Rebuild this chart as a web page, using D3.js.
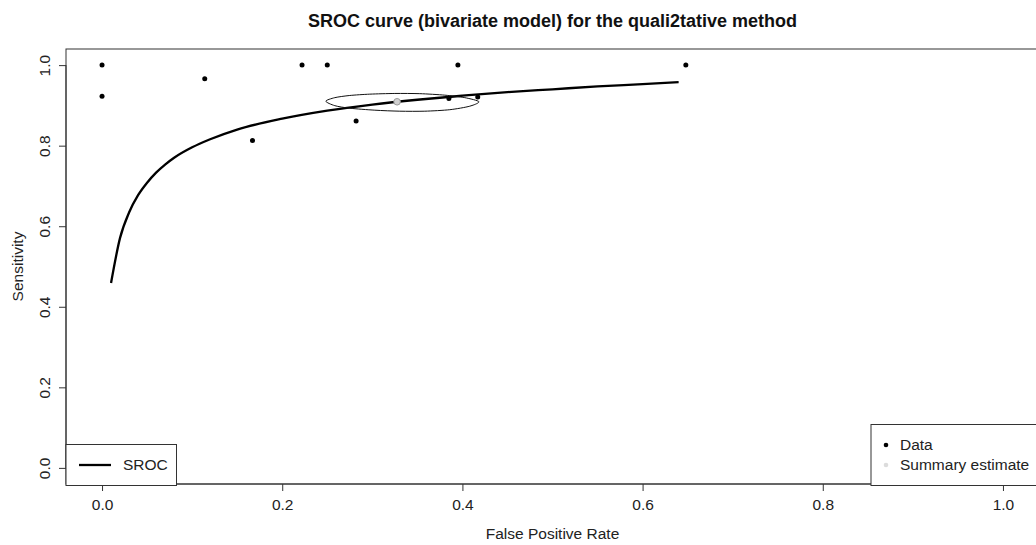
<!DOCTYPE html>
<html>
<head>
<meta charset="utf-8">
<script src="https://cdn.jsdelivr.net/npm/d3@7"></script>
<style>
  html, body { margin: 0; padding: 0; background: #fff; }
  svg { display: block; font-family: "Liberation Sans", Arial, sans-serif; }
</style>
</head>
<body>
<svg id="chart" width="1036" height="545"></svg>
<script>
// Study-level observations (false positive rate, sensitivity)
const dataFpr  = [0.000, 0.000, 0.114, 0.167, 0.222, 0.250, 0.282, 0.385, 0.395, 0.417, 0.648];
const dataSens = [1.000, 0.923, 0.966, 0.813, 1.000, 1.000, 0.861, 0.917, 1.000, 0.921, 1.000];

// Summary estimate of the bivariate model
const summaryFpr = 0.3275;
const summarySens = 0.909;

// SROC curve
const srocFpr  = [0.01, 0.02, 0.03, 0.04, 0.05, 0.06, 0.07, 0.08, 0.10, 0.12, 0.15, 0.20, 0.25, 0.30, 0.35, 0.40, 0.45, 0.50, 0.55, 0.60, 0.64];
const srocSens = [0.459, 0.571, 0.634, 0.677, 0.708, 0.733, 0.753, 0.770, 0.796, 0.816, 0.840, 0.867, 0.887, 0.902, 0.914, 0.924, 0.933, 0.940, 0.947, 0.953, 0.958];

// Confidence region around the summary estimate
const regionFpr  = [0.2484, 0.2584, 0.2750, 0.2972, 0.3250, 0.3527, 0.3805, 0.4027, 0.4183, 0.4082, 0.3860, 0.3583, 0.3305, 0.3028, 0.2750, 0.2584];
const regionSens = [0.9104, 0.9192, 0.9246, 0.9279, 0.9296, 0.9291, 0.9254, 0.9192, 0.9092, 0.8980, 0.8893, 0.8856, 0.8856, 0.8881, 0.8930, 0.8993];

const xTicks = [0, 0.2, 0.4, 0.6, 0.8, 1.0];
const yTicks = [0, 0.2, 0.4, 0.6, 0.8, 1.0];

const titleText = "SROC curve (bivariate model) for the quali2tative method";
const xLabel = "False Positive Rate";
const yLabel = "Sensitivity";

const FONT = "Liberation Sans, Arial, sans-serif";
const FS = 15.5;

const svg = d3.select("#chart");

// plot region: data range padded by 4% on each side
const x = d3.scaleLinear().domain([-0.04, 1.04]).range([66, 1039]);
const y = d3.scaleLinear().domain([-0.04, 1.04]).range([484, 49]);

const fmt = d3.format(".1f");

// frame
svg.append("rect")
  .attr("x", x(-0.04)).attr("y", y(1.04))
  .attr("width", x(1.04) - x(-0.04)).attr("height", y(-0.04) - y(1.04))
  .attr("fill", "none").attr("stroke", "#333").attr("stroke-width", 1);

// x axis
const xAxis = svg.append("g").attr("transform", `translate(0,${y(-0.04)})`)
  .call(d3.axisBottom(x).tickValues(xTicks).tickFormat(fmt).tickSize(7).tickPadding(8));
xAxis.select(".domain").attr("d", `M${x(0)},0H${x(1)}`).attr("stroke", "#333");
xAxis.selectAll(".tick line").attr("stroke", "#333");
xAxis.selectAll(".tick text").attr("font-size", FS).attr("fill", "#222")
  .attr("font-family", FONT);

// y axis with rotated tick labels
const yAxis = svg.append("g").attr("transform", `translate(${x(-0.04)},0)`)
  .call(d3.axisLeft(y).tickValues(yTicks).tickFormat(fmt).tickSize(7).tickPadding(6));
yAxis.select(".domain").attr("d", `M0,${y(0)}V${y(1)}`).attr("stroke", "#333");
yAxis.selectAll(".tick line").attr("stroke", "#333");
yAxis.selectAll(".tick text")
  .attr("font-size", FS).attr("fill", "#222")
  .attr("font-family", FONT)
  .attr("text-anchor", "middle")
  .attr("x", null)
  .attr("transform", "translate(-21,0) rotate(-90)")
  .attr("dy", "0.35em");

// title and axis labels
svg.append("text").attr("x", x(0.5)).attr("y", 27)
  .attr("text-anchor", "middle").attr("font-size", 18).attr("font-weight", "bold")
  .attr("fill", "#111").text(titleText);
svg.append("text").attr("x", x(0.5)).attr("y", 539)
  .attr("text-anchor", "middle").attr("font-size", FS).attr("fill", "#222").text(xLabel);
svg.append("text").attr("transform", `translate(23,${y(0.5)}) rotate(-90)`)
  .attr("text-anchor", "middle").attr("font-size", FS).attr("fill", "#222").text(yLabel);

// SROC curve
const srocLine = d3.line().x(d => x(d[0])).y(d => y(d[1])).curve(d3.curveMonotoneX);
svg.append("path")
  .datum(srocFpr.map((f, i) => [f, srocSens[i]]))
  .attr("d", srocLine)
  .attr("fill", "none").attr("stroke", "#000").attr("stroke-width", 2.3)
  .attr("stroke-linejoin", "round");

// confidence region
const regionLine = d3.line().x(d => x(d[0])).y(d => y(d[1])).curve(d3.curveCardinalClosed.tension(0.2));
svg.append("path")
  .datum(regionFpr.map((f, i) => [f, regionSens[i]]))
  .attr("d", regionLine)
  .attr("fill", "none").attr("stroke", "#111").attr("stroke-width", 1);

// study points
svg.append("g").selectAll("circle")
  .data(dataFpr.map((f, i) => [f, dataSens[i]]))
  .join("circle")
  .attr("cx", d => x(d[0])).attr("cy", d => y(d[1])).attr("r", 2.5)
  .attr("fill", "#000");

// summary estimate
svg.append("circle")
  .attr("cx", x(summaryFpr)).attr("cy", y(summarySens)).attr("r", 3.3)
  .attr("fill", "#d0d0d0").attr("stroke", "#9a9a9a").attr("stroke-width", 1);

// legend: SROC (bottom left)
const lg1 = svg.append("g");
lg1.append("rect").attr("x", 66).attr("y", 444.5).attr("width", 110.5).attr("height", 41)
  .attr("fill", "#fff").attr("stroke", "#333").attr("stroke-width", 1);
lg1.append("line").attr("x1", 79).attr("x2", 111).attr("y1", 465).attr("y2", 465)
  .attr("stroke", "#000").attr("stroke-width", 2.3);
lg1.append("text").attr("x", 123).attr("y", 465).attr("dy", "0.35em")
  .attr("font-size", FS).attr("fill", "#222").text("SROC");

// legend: points (bottom right)
const lg2 = svg.append("g");
lg2.append("rect").attr("x", 871).attr("y", 424.5).attr("width", 170).attr("height", 61)
  .attr("fill", "#fff").attr("stroke", "#333").attr("stroke-width", 1);
lg2.append("circle").attr("cx", 886).attr("cy", 445).attr("r", 2.3).attr("fill", "#000");
lg2.append("text").attr("x", 900).attr("y", 445).attr("dy", "0.35em")
  .attr("font-size", FS).attr("fill", "#222").text("Data");
lg2.append("circle").attr("cx", 886).attr("cy", 465).attr("r", 2.3).attr("fill", "#dcdcdc");
lg2.append("text").attr("x", 900).attr("y", 465).attr("dy", "0.35em")
  .attr("font-size", FS).attr("fill", "#222").text("Summary estimate");
</script>
</body>
</html>
